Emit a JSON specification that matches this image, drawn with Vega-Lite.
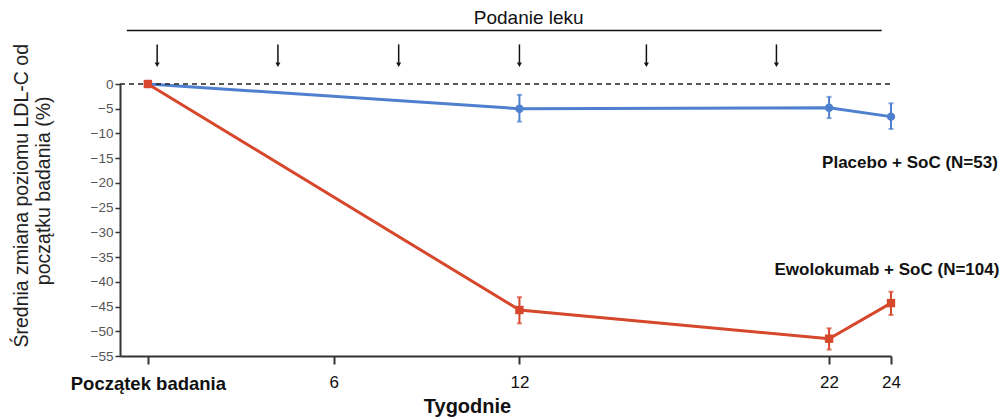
{
  "$schema": "https://vega.github.io/schema/vega-lite/v6.json",
  "width": 771,
  "height": 272,
  "autosize": "none",
  "padding": {"left": 120, "top": 84, "right": 113, "bottom": 63},
  "background": "white",
  "config": {
    "view": {"stroke": null},
    "font": "Liberation Sans",
    "axisY": {
      "grid": false,
      "domainColor": "#333", "domainWidth": 2,
      "tickColor": "#333", "tickWidth": 1.5, "tickSize": 5,
      "labelFont": "Liberation Sans",
      "labelFontSize": 13.5, "labelColor": "#555", "labelPadding": 2,
      "labelFlush": false, "labelOverlap": false
    }
  },
  "datasets": {
    "series": [
      {"week": 0, "group": "Placebo + SoC (N=53)", "mean": 0, "lo": null, "hi": null},
      {"week": 12, "group": "Placebo + SoC (N=53)", "mean": -5.0, "lo": -7.6, "hi": -2.2},
      {"week": 22, "group": "Placebo + SoC (N=53)", "mean": -4.8, "lo": -6.9, "hi": -2.6},
      {"week": 24, "group": "Placebo + SoC (N=53)", "mean": -6.6, "lo": -9.1, "hi": -3.9},
      {"week": 0, "group": "Ewolokumab + SoC (N=104)", "mean": 0, "lo": null, "hi": null},
      {"week": 12, "group": "Ewolokumab + SoC (N=104)", "mean": -45.7, "lo": -48.4, "hi": -43.1},
      {"week": 22, "group": "Ewolokumab + SoC (N=104)", "mean": -51.5, "lo": -53.7, "hi": -49.4},
      {"week": 24, "group": "Ewolokumab + SoC (N=104)", "mean": -44.3, "lo": -46.7, "hi": -42.0}
    ],
    "doses": [
      {"week": 0.3}, {"week": 4.2}, {"week": 8.1}, {"week": 12.0}, {"week": 16.1}, {"week": 20.3}
    ]
  },
  "data": {"name": "series"},
  "layer": [
    {
      "mark": {"type": "line", "strokeWidth": 3},
      "encoding": {
        "x": {
          "field": "week", "type": "quantitative",
          "scale": {"domain": [-0.9, 24], "nice": false, "zero": false},
          "axis": {
            "title": "Tygodnie",
            "values": [0, 6, 12, 22, 24],
            "labelExpr": "datum.value == 0 ? 'Początek badania' : datum.label",
            "grid": false,
            "domainColor": "#333", "domainWidth": 2,
            "tickColor": "#333", "tickWidth": 2, "tickSize": 8,
            "labelFont": "Liberation Sans",
            "labelFontSize": {"condition": {"test": "datum.value == 0", "value": 18.5}, "value": 17},
            "labelColor": "#111",
            "labelFontWeight": {"condition": {"test": "datum.value == 0", "value": "bold"}, "value": "normal"},
            "labelPadding": 10, "labelFlush": false, "labelOverlap": false,
            "titleFont": "Liberation Sans",
            "titleFontSize": 20, "titleFontWeight": "bold", "titleColor": "#111",
            "titleX": 347, "titlePadding": 4
          }
        },
        "y": {
          "field": "mean", "type": "quantitative",
          "scale": {"domain": [-55, 0], "nice": false, "zero": false},
          "axis": {"title": null, "tickCount": 12}
        },
        "color": {
          "field": "group", "type": "nominal",
          "scale": {"domain": ["Placebo + SoC (N=53)", "Ewolokumab + SoC (N=104)"], "range": ["#4f80cf", "#d6472c"]},
          "legend": null
        }
      }
    },
    {
      "data": {"values": [{}]},
      "mark": {"type": "rule", "strokeDash": [5, 4], "color": "#222", "strokeWidth": 1.5},
      "encoding": {
        "x": {"datum": -0.9, "type": "quantitative"},
        "x2": {"datum": 24},
        "y": {"datum": 0, "type": "quantitative"}
      }
    },
    {
      "transform": [{"filter": "datum.lo != null"}],
      "mark": {"type": "errorbar", "ticks": true, "thickness": 2},
      "encoding": {
        "x": {"field": "week", "type": "quantitative"},
        "y": {"field": "lo", "type": "quantitative"},
        "y2": {"field": "hi"},
        "color": {"field": "group", "type": "nominal", "legend": null}
      }
    },
    {
      "mark": {"type": "point", "filled": true, "opacity": 1, "size": 70},
      "encoding": {
        "x": {"field": "week", "type": "quantitative"},
        "y": {"field": "mean", "type": "quantitative"},
        "color": {"field": "group", "type": "nominal", "legend": null},
        "shape": {
          "field": "group", "type": "nominal",
          "scale": {"domain": ["Placebo + SoC (N=53)", "Ewolokumab + SoC (N=104)"], "range": ["circle", "square"]},
          "legend": null
        }
      }
    },
    {
      "data": {"name": "doses"},
      "mark": {"type": "rule", "color": "#111", "strokeWidth": 1.5},
      "encoding": {
        "x": {"field": "week", "type": "quantitative"},
        "y": {"datum": 8, "type": "quantitative"},
        "y2": {"datum": 4.3}
      }
    },
    {
      "data": {"name": "doses"},
      "mark": {"type": "point", "shape": "triangle-down", "filled": true, "color": "#111", "opacity": 1, "size": 25},
      "encoding": {
        "x": {"field": "week", "type": "quantitative"},
        "y": {"datum": 3.9, "type": "quantitative"}
      }
    },
    {
      "data": {"values": [{}]},
      "mark": {"type": "rule", "color": "#111", "strokeWidth": 1.5},
      "encoding": {
        "x": {"datum": -0.68, "type": "quantitative"},
        "x2": {"datum": 23.7},
        "y": {"datum": 10.8, "type": "quantitative"}
      }
    },
    {
      "data": {"values": [{"label": "Podanie leku"}]},
      "mark": {"type": "text", "fontSize": 19, "color": "#111", "baseline": "middle", "align": "center"},
      "encoding": {
        "x": {"datum": 12.3, "type": "quantitative"},
        "y": {"datum": 13.3, "type": "quantitative"},
        "text": {"field": "label"}
      }
    },
    {
      "data": {"values": [
        {"label": "Średnia zmiana poziomu LDL-C od", "lx": -4.05, "ly": -22.6},
        {"label": "początku badania (%)", "lx": -3.34, "ly": -21.6}
      ]},
      "mark": {"type": "text", "angle": 270, "fontSize": 19.5, "color": "#222", "baseline": "middle", "align": "center"},
      "encoding": {
        "x": {"field": "lx", "type": "quantitative"},
        "y": {"field": "ly", "type": "quantitative"},
        "text": {"field": "label"}
      }
    },
    {
      "data": {"values": [
        {"label": "Placebo + SoC (N=53)", "lx": 27.45, "ly": -16},
        {"label": "Ewolokumab + SoC (N=104)", "lx": 27.5, "ly": -37.6}
      ]},
      "mark": {"type": "text", "fontSize": 17, "fontWeight": "bold", "color": "#111", "baseline": "middle", "align": "right"},
      "encoding": {
        "x": {"field": "lx", "type": "quantitative"},
        "y": {"field": "ly", "type": "quantitative"},
        "text": {"field": "label"}
      }
    }
  ]
}
